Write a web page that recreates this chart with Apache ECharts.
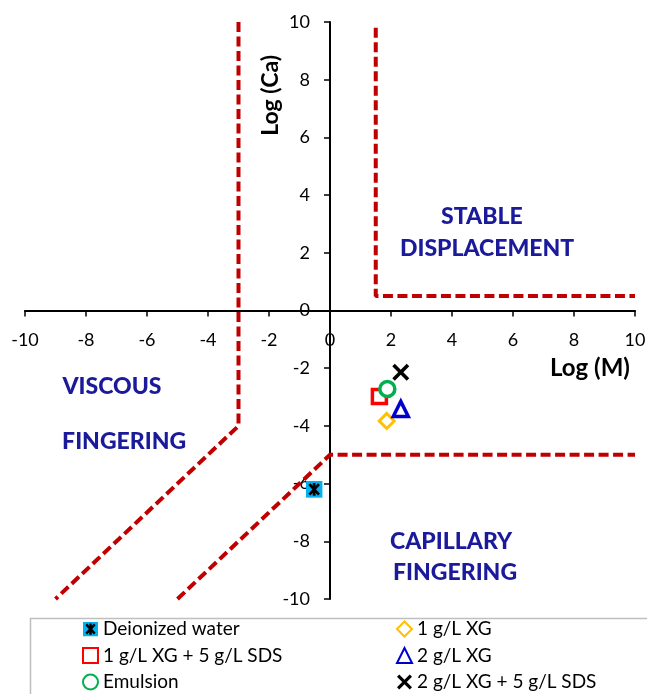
<!DOCTYPE html>
<html>
<head>
<meta charset="utf-8">
<script src="https://cdn.jsdelivr.net/npm/echarts@6/dist/echarts.min.js"></script>
<style>html,body{margin:0;padding:0;background:#fff}#c{width:647px;height:694px}</style>
</head>
<body>
<div id="c"></div>
<script>
// ---- data ----
const xTicks = [-10, 10, 2];           // min, max, interval
const yTicks = [-10, 10, 2];
const deionizedWater = [[-0.52, -6.2]];
const xg1 = [[1.86, -3.83]];
const xg1sds5 = [[1.62, -2.98]];
const xg2 = [[2.32, -3.41]];
const emulsion = [[1.88, -2.72]];
const xg2sds5 = [[2.32, -2.14]];
const viscousBoundary = [[-3, 10], [-3, -4], [-9, -10]];
const capillaryBoundary = [[-5, -10], [0, -5], [10, -5]];
const stableBoundary = [[1.5, 9.8], [1.5, 0.5], [10, 0.5]];
const regionLabels = [
  { name: 'STABLE', value: [4.98, 3.25] },
  { name: 'DISPLACEMENT', value: [5.15, 2.14] },
  { name: 'VISCOUS', value: [-7.15, -2.65] },
  { name: 'FINGERING', value: [-6.75, -4.56] },
  { name: 'CAPILLARY', value: [3.97, -8.0] },
  { name: 'FINGERING', value: [4.1, -9.1] }
];
const seriesNames = ['Deionized water', '1 g/L XG', '1 g/L XG + 5 g/L SDS', '2 g/L XG', 'Emulsion', '2 g/L XG + 5 g/L SDS'];

const FONT = 'Lato';
const dwSvg = "<svg xmlns='http://www.w3.org/2000/svg' width='32' height='32' viewBox='0 0 16 16'><rect width='16' height='16' fill='#00B0F0'/><path d='M3.5,3 L12.5,13 M12.5,3 L3.5,13 M8,2 L8,14' stroke='black' stroke-width='2.6' fill='none'/></svg>";
const dwSymbol = 'image://data:image/svg+xml;utf8,' + encodeURIComponent(dwSvg);
const crossPath = 'path://M3,0 L10,7 L17,0 L20,3 L13,10 L20,17 L17,20 L10,13 L3,20 L0,17 L7,10 L0,3 Z';

const GRID = { left: 25, right: 12, top: 22, bottom: 95 };
const W = 647, H = 694;
const gridW = W - GRID.left - GRID.right;
const gridH = H - GRID.top - GRID.bottom;

const chart = echarts.init(document.getElementById('c'), null, { renderer: 'canvas' });

function boundary(data) {
  return {
    type: 'line', data: data, showSymbol: false, symbol: 'none', silent: true, z: 1,
    lineStyle: { color: '#C00000', width: 4, type: [10, 4.5] }
  };
}
function hollow(name, data, symbol, size, color, bw) {
  return {
    name: name, type: 'scatter', data: data, symbol: symbol, symbolSize: size, z: 5,
    itemStyle: { color: '#fff', borderColor: color, borderWidth: bw, opacity: 1 }
  };
}

const legendText = { fontFamily: FONT, fontSize: 19, color: '#000', lineHeight: 20 };

chart.setOption({
  animation: false,
  backgroundColor: '#fff',
  grid: Object.assign({ containLabel: false, outerBoundsMode: 'none' }, GRID),
  xAxis: {
    type: 'value', min: xTicks[0], max: xTicks[1], interval: xTicks[2],
    position: 'bottom', offset: -gridH / 2,
    axisLine: { onZero: false, lineStyle: { color: '#000', width: 2 } },
    axisTick: { show: true, length: 6, lineStyle: { color: '#000', width: 1.5 } },
    axisLabel: { color: '#000', fontFamily: FONT, fontSize: 18, margin: 21, showMinLabel: true, showMaxLabel: true, hideOverlap: false },
    splitLine: { show: false }
  },
  yAxis: {
    type: 'value', min: yTicks[0], max: yTicks[1], interval: yTicks[2],
    position: 'left', offset: -gridW / 2,
    axisLine: { onZero: false, lineStyle: { color: '#000', width: 2 } },
    axisTick: { show: true, length: 6, lineStyle: { color: '#000', width: 1.5 } },
    axisLabel: { color: '#000', fontFamily: FONT, fontSize: 18, margin: 20, showMinLabel: true, showMaxLabel: true, hideOverlap: false },
    splitLine: { show: false }
  },
  legend: [
    {
      left: 82, top: 619, orient: 'vertical', itemWidth: 15, itemHeight: 15, itemGap: 6.5, padding: 0,
      textStyle: legendText, data: [seriesNames[0], seriesNames[2], seriesNames[4]], selectedMode: false
    },
    {
      left: 396, top: 619, orient: 'vertical', itemWidth: 15, itemHeight: 15, itemGap: 6.5, padding: 0,
      textStyle: legendText, data: [seriesNames[1], seriesNames[3], seriesNames[5]], selectedMode: false
    }
  ],
  graphic: [
    { type: 'rect', left: 28, top: 616, shape: { width: 640, height: 90 }, style: { fill: 'none', stroke: '#bfbfbf', lineWidth: 1.5 }, z: 0 },
    { type: 'text', left: 259, top: 55, rotation: Math.PI / 2, style: { text: 'Log (Ca)', fontFamily: FONT, fontWeight: 'bold', fontSize: 23, fill: '#000' } },
    { type: 'text', left: 550, top: 356, style: { text: 'Log (M)', fontFamily: FONT, fontWeight: 'bold', fontSize: 24, fill: '#000' } }
  ],
  series: [
    boundary(viscousBoundary),
    boundary(capillaryBoundary),
    boundary(stableBoundary),
    {
      type: 'scatter', data: regionLabels, symbolSize: 0, silent: true, z: 3,
      itemStyle: { opacity: 1 },
      label: {
        show: true, position: 'inside', formatter: p => p.name,
        fontFamily: FONT, fontWeight: 900, fontSize: 23, color: '#1A1A9A'
      }
    },
    { name: seriesNames[0], type: 'scatter', data: deionizedWater, symbol: dwSymbol, symbolSize: 17, z: 5, itemStyle: { opacity: 1 } },
    hollow(seriesNames[1], xg1, 'diamond', 15, '#FFC000', 3),
    hollow(seriesNames[2], xg1sds5, 'rect', 14, '#FF0000', 3.5),
    hollow(seriesNames[3], xg2, 'triangle', 15, '#0000CC', 3.5),
    hollow(seriesNames[4], emulsion, 'circle', 15, '#00B050', 3.5),
    { name: seriesNames[5], type: 'scatter', data: xg2sds5, symbol: crossPath, symbolSize: 17, z: 6, itemStyle: { color: '#000', opacity: 1 } }
  ]
});
</script>
</body>
</html>
